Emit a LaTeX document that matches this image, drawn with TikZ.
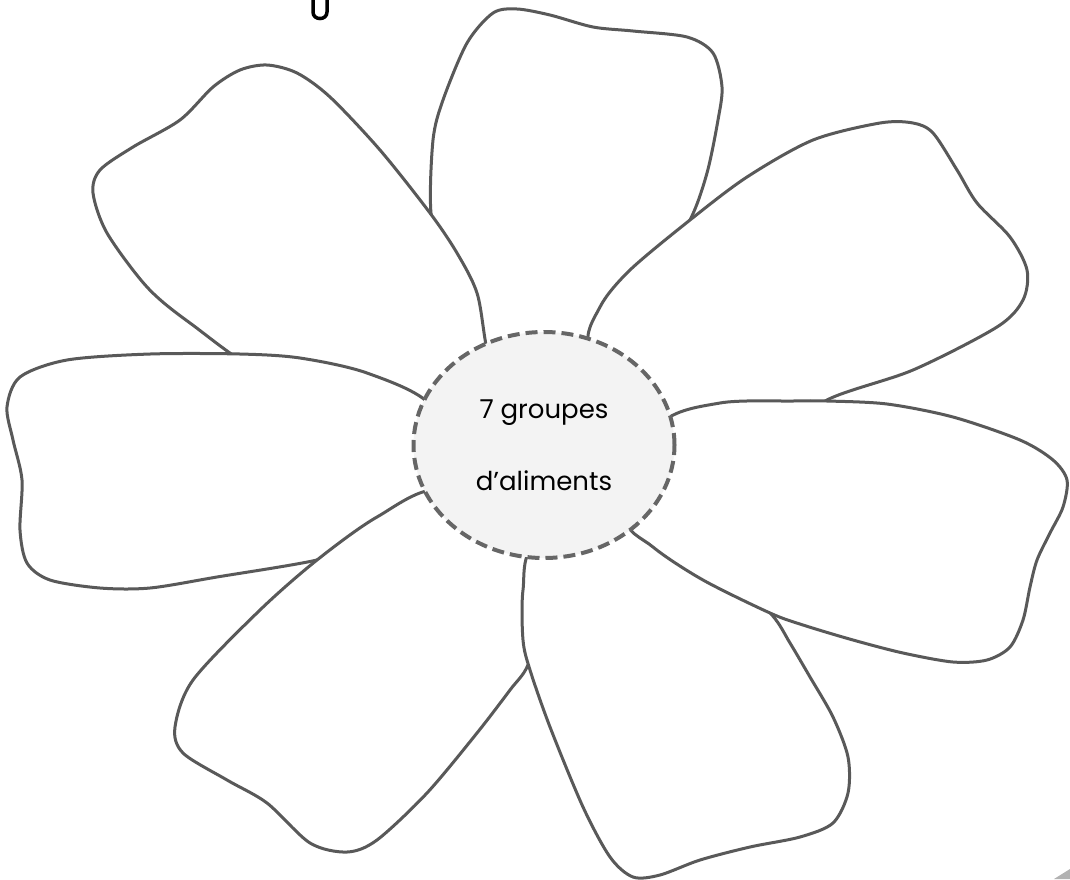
\documentclass[tikz,border=0pt]{standalone}
\usepackage{fontspec}
\setmainfont{Poppins}
\usetikzlibrary{shapes.geometric, positioning}
\definecolor{trait}{HTML}{595959}
\definecolor{pointille}{HTML}{666666}
\definecolor{fond}{HTML}{F3F3F3}
\tikzset{
  petale/.style={draw=trait, fill=white, line width=3pt, line join=round},
  coeur/.style={ellipse, draw=pointille, fill=fond, line width=4pt, dash pattern=on 12pt off 6pt, minimum width=261pt, minimum height=226pt, inner sep=0pt, align=center, font=\fontsize{26}{26}\selectfont},
  bout/.style={draw=black, line width=3.5pt, line cap=round}
}
\begin{document}
\begin{tikzpicture}[x=1pt, y=-1pt]
  \useasboundingbox (0,0) rectangle (1070,879);

  % morceau de lettre en haut
  \draw[bout] (313,0) -- (313,12) to[out=-90, in=-90, looseness=1.6] (327,12) -- (327,0);
  % coin gris en bas
  \fill[black!30] (1054,879) -- (1070,869) -- (1070,879) -- cycle;

  % petale du haut
  \draw[petale] plot[smooth cycle] coordinates {(500,380) (445,265) (431,213) (433,140) (443,100) (467,43) (493,13) (517,9) (550,15) (593,27) (633,31) (687,37) (713,53) (722,87) (718,120) (707,173) (690,220) (655,275) (590,380)};
  % petale en haut a droite
  \draw[petale] plot[smooth cycle] coordinates {(590,350) (600,307) (630,270) (690,220) (747,177) (813,140) (880,123) (913,123) (933,133) (957,170) (977,203) (1010,237) (1027,270) (1023,300) (997,327) (913,370) (827,400) (780,440) (650,430)};
  % petale en haut a gauche
  \draw[petale] plot[smooth cycle] coordinates {(275,380) (190,323) (147,287) (107,233) (93,193) (100,170) (133,147) (180,120) (213,87) (240,70) (267,65) (297,73) (330,97) (380,150) (430,213) (457,253) (477,293) (486,345) (500,420) (400,410)};
  % petale de gauche
  \draw[petale] plot[smooth cycle] coordinates {(430,405) (367,373) (300,358) (240,354) (150,354) (67,360) (20,377) (7,407) (13,440) (22,480) (20,530) (27,563) (50,580) (100,588) (150,588) (217,577) (317,560) (380,540) (440,470)};
  % petale en bas a gauche
  \draw[petale] plot[smooth cycle] coordinates {(440,490) (377,517) (317,560) (260,610) (193,680) (175,727) (183,753) (227,780) (267,803) (310,843) (347,852) (377,840) (427,793) (477,733) (510,690) (528,665) (545,610) (520,540)};
  % petale en bas a droite
  \draw[petale] plot[smooth cycle] coordinates {(535,545) (523,590) (523,640) (530,670) (550,727) (583,807) (610,857) (633,877) (660,875) (700,860) (750,847) (800,837) (833,823) (848,793) (848,757) (833,717) (810,677) (790,643) (772,615) (730,575) (620,520)};
  % petale de droite
  \draw[petale] plot[smooth cycle] coordinates {(660,425) (720,403) (793,401) (827,401) (887,404) (953,417) (1020,440) (1053,460) (1067,480) (1063,507) (1050,533) (1037,560) (1030,587) (1023,620) (1010,647) (987,660) (953,662) (903,653) (853,640) (803,625) (770,613) (703,580) (653,547) (625,515)};

  % centre
  \node[coeur] (coeur) at (544,445) {7 groupes\\[44pt]d’aliments};
\end{tikzpicture}
\end{document}
